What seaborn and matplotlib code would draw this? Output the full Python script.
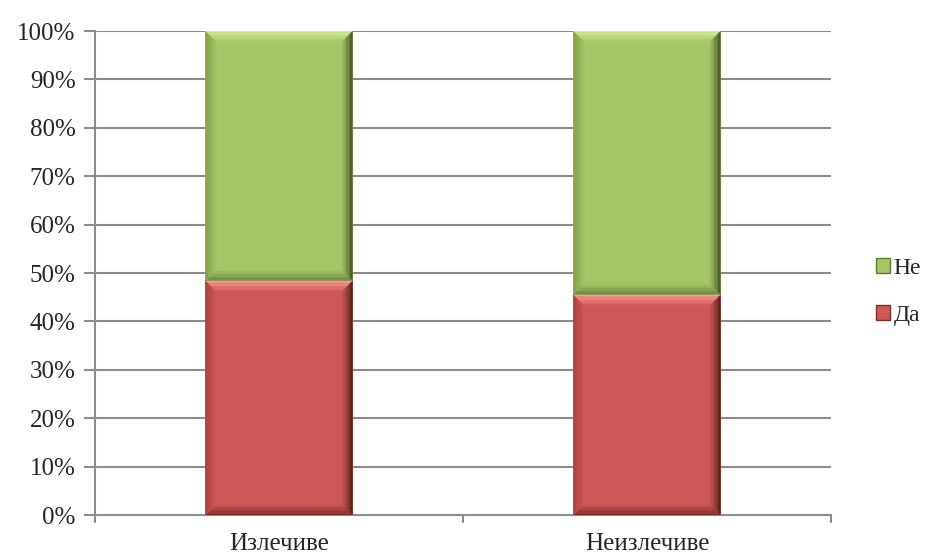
import numpy as np
import pandas as pd
import matplotlib
matplotlib.use("Agg")
import matplotlib.pyplot as plt
import matplotlib.colors as mcolors
from matplotlib.patches import Polygon, Patch
import seaborn as sns

categories = ["Излечиве", "Неизлечиве"]
da_pct = [48.4, 45.5]
ne_pct = [51.6, 54.5]
series_names = ["Да", "Не"]
y_ticks = [0, 10, 20, 30, 40, 50, 60, 70, 80, 90, 100]
y_tick_labels = [f"{t}%" for t in y_ticks]

GREEN = "#A5C566"
RED = "#CE5855"

sns.set_theme(style="white")
plt.rcParams["font.family"] = ["Liberation Serif", "DejaVu Serif"]

fig = plt.figure(figsize=(9.27, 5.56), dpi=100)
ax = fig.add_axes([0.1025, 0.0737, 0.7939, 0.8705])

df = pd.DataFrame({
    "cat": categories,
    "da": da_pct,
    "total": [d + n for d, n in zip(da_pct, ne_pct)],
})

# stacked 100% columns: the full height in green, the "Да" share on top in red
sns.barplot(data=df, x="cat", y="total", color=GREEN, saturation=1,
            width=0.4, ax=ax, linewidth=0, zorder=3)
sns.barplot(data=df, x="cat", y="da", color=RED, saturation=1,
            width=0.4, ax=ax, linewidth=0, zorder=3)

ax.set_xlim(-0.5, 1.5)
ax.set_ylim(0, 100)
ax.set_yticks(y_ticks)
ax.set_yticklabels(y_tick_labels, fontsize=18)
ax.set_xticks([0, 1])
ax.set_xticklabels(categories, fontsize=18)
ax.set_xlabel("")
ax.set_ylabel("")

grid_c = "#8C8C8C"
for t in y_ticks[1:]:
    ax.axhline(t, color=grid_c, lw=1.5, zorder=1)
for s in ["top", "right"]:
    ax.spines[s].set_visible(False)
for s in ["left", "bottom"]:
    ax.spines[s].set_color(grid_c)
    ax.spines[s].set_linewidth(1.5)
ax.tick_params(axis="y", length=8, width=1.5, color=grid_c, pad=6, left=True)
ax.tick_params(axis="x", length=0, pad=13)
# category separator ticks on the x axis
for xb in [-0.5, 0.5, 1.5]:
    ax.plot([xb, xb], [0, -1.5], color=grid_c, lw=1.5, clip_on=False, zorder=4)


def mix(c1, c2, t):
    a = np.array(mcolors.to_rgb(c1))
    b = np.array(mcolors.to_rgb(c2))
    return tuple(a * (1 - t) + b * t)


def bevel(patch, face, top, left, right, bottom, bpx=11, n=8):
    x0, y0 = patch.get_x(), patch.get_y()
    w, h = patch.get_width(), patch.get_height()
    inv = ax.transData.inverted()
    p0 = ax.transData.transform((x0, y0))
    dx = inv.transform(p0 + np.array([bpx, 0]))[0] - x0
    dy = inv.transform(p0 + np.array([0, bpx]))[1] - y0
    x1, y1 = x0 + w, y0 + h
    for i in range(n):
        a, b = i / n, (i + 1) / n
        ta = (i + 0.5) / n
        # top band
        ax.add_patch(Polygon([(x0 + a * dx, y1 - a * dy), (x1 - a * dx, y1 - a * dy),
                              (x1 - b * dx, y1 - b * dy), (x0 + b * dx, y1 - b * dy)],
                             closed=True, fc=mix(top, face, ta ** 1.2), ec="none", zorder=4))
        # bottom band
        ax.add_patch(Polygon([(x0 + a * dx, y0 + a * dy), (x1 - a * dx, y0 + a * dy),
                              (x1 - b * dx, y0 + b * dy), (x0 + b * dx, y0 + b * dy)],
                             closed=True, fc=mix(bottom, face, ta), ec="none", zorder=4))
        # left band
        ax.add_patch(Polygon([(x0 + a * dx, y0 + a * dy), (x0 + a * dx, y1 - a * dy),
                              (x0 + b * dx, y1 - b * dy), (x0 + b * dx, y0 + b * dy)],
                             closed=True, fc=mix(left, face, ta), ec="none", zorder=4))
        # right band
        ax.add_patch(Polygon([(x1 - a * dx, y0 + a * dy), (x1 - a * dx, y1 - a * dy),
                              (x1 - b * dx, y1 - b * dy), (x1 - b * dx, y0 + b * dy)],
                             closed=True, fc=mix(right, face, ta ** 0.8), ec="none", zorder=4))


n_cat = len(categories)
green_patches = list(ax.patches[:n_cat])
red_patches = list(ax.patches[n_cat:2 * n_cat])

# the green bar spans the whole column; keep only its "Не" part above the red one
for gp, rp in zip(green_patches, red_patches):
    gp.set_y(rp.get_height())
    gp.set_height(gp.get_height() - rp.get_height())

fig.canvas.draw()
for gp in green_patches:
    bevel(gp, GREEN, top="#D8F0A0", left="#7F9C45", right="#2E3B18", bottom="#62803A")
for rp in red_patches:
    bevel(rp, RED, top="#FF9C96", left="#A8423F", right="#3A1312", bottom="#742927")

handles = [Patch(facecolor=GREEN, edgecolor="#5E7A2E", label=series_names[1]),
           Patch(facecolor=RED, edgecolor="#7E2D2B", label=series_names[0])]
ax.legend(handles=handles, loc="center left", bbox_to_anchor=(1.048, 0.461),
          frameon=False, fontsize=17, handlelength=0.6, handleheight=0.6,
          handletextpad=0.15, labelspacing=1.1, borderaxespad=0.0)

fig.savefig("out.png", dpi=100)
